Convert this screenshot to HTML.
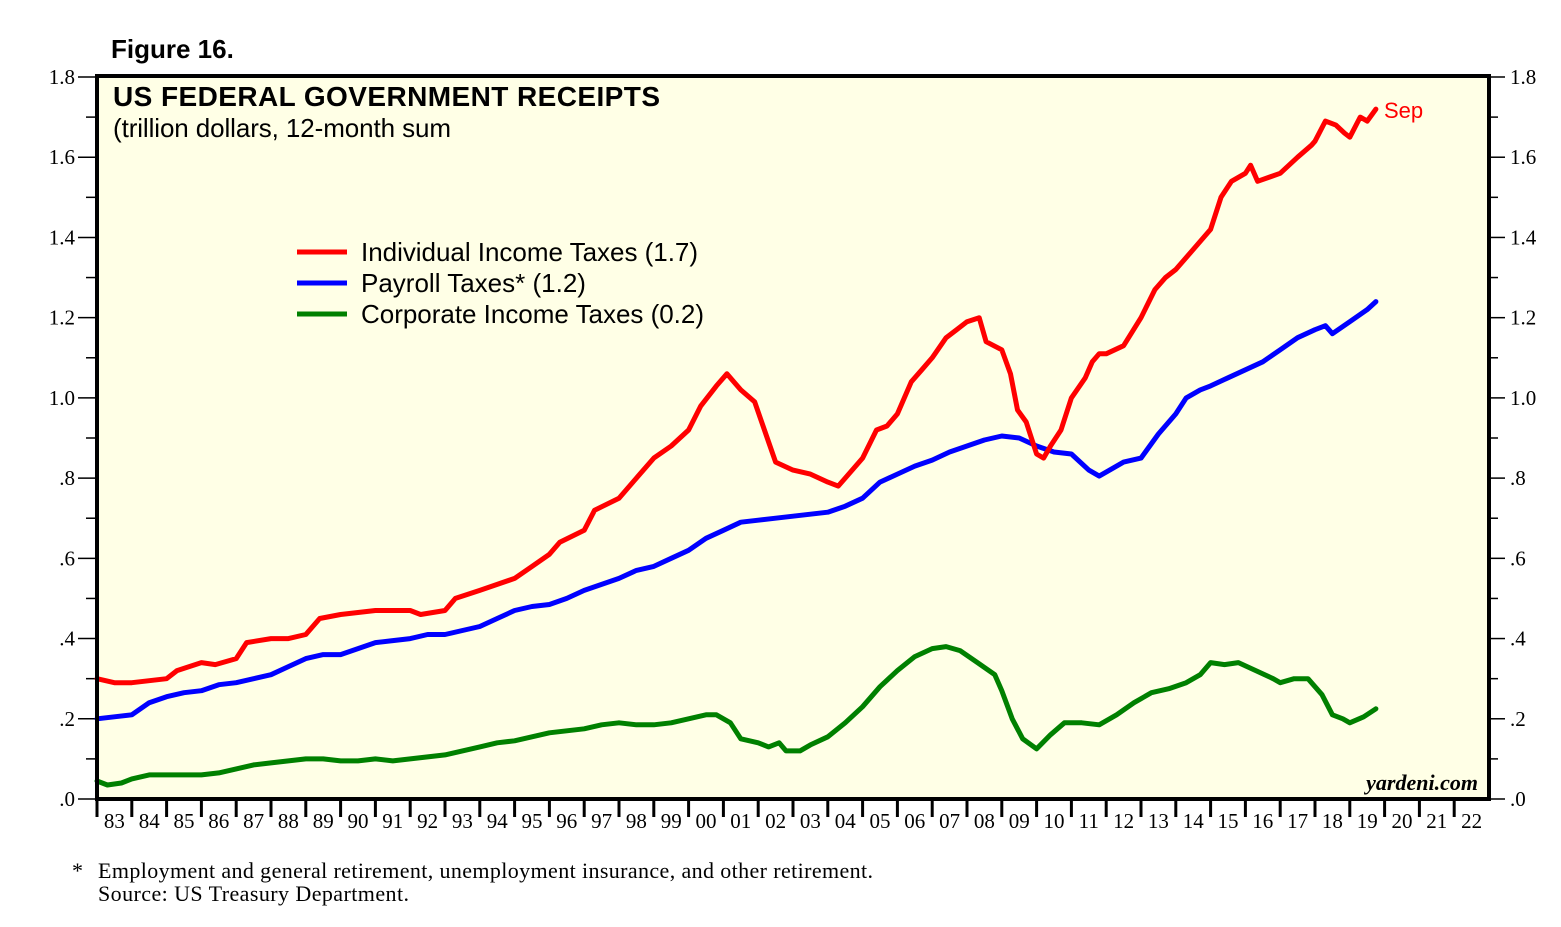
<!DOCTYPE html>
<html><head><meta charset="utf-8"><style>
body{margin:0;background:#fff;}
svg{display:block;}
</style></head><body>
<svg id="chart" width="1561" height="927" xmlns="http://www.w3.org/2000/svg">
<text x="111" y="58" font-family="Liberation Sans, sans-serif" font-weight="bold" font-size="26">Figure 16.</text>
<rect x="97" y="76" width="1392" height="723" fill="#ffffe6"/>
<g id="axes"></g>
<g id="series"></g>
<rect x="97" y="76" width="1392" height="723" fill="none" stroke="#000" stroke-width="4"/>
<text x="113" y="106" font-family="Liberation Sans, sans-serif" font-weight="bold" font-size="28" textLength="547">US FEDERAL GOVERNMENT RECEIPTS</text>
<text x="113" y="137" font-family="Liberation Sans, sans-serif" font-size="26" textLength="338">(trillion dollars, 12-month sum</text>
<g font-family="Liberation Sans, sans-serif" font-size="26">
<line x1="297" y1="252" x2="347" y2="252" stroke="#ff0000" stroke-width="5"/>
<text x="361" y="261" textLength="337">Individual Income Taxes (1.7)</text>
<line x1="297" y1="283" x2="347" y2="283" stroke="#0000ff" stroke-width="5"/>
<text x="361" y="292">Payroll Taxes* (1.2)</text>
<line x1="297" y1="314" x2="347" y2="314" stroke="#008000" stroke-width="5"/>
<text x="361" y="323" textLength="343">Corporate Income Taxes (0.2)</text>
</g>
<text x="1384" y="118" fill="#ff0000" font-family="Liberation Sans, sans-serif" font-size="22">Sep</text>
<text x="1478" y="790" text-anchor="end" font-family="Liberation Serif, serif" font-style="italic" font-weight="bold" font-size="22">yardeni.com</text>
<text x="72" y="878" font-family="Liberation Serif, serif" font-size="22">*</text>
<text x="98" y="878" font-family="Liberation Serif, serif" font-size="22" textLength="775">Employment and general retirement, unemployment insurance, and other retirement.</text>
<text x="98" y="901" font-family="Liberation Serif, serif" font-size="22" textLength="311">Source: US Treasury Department.</text>
</svg>
<script>
const yTicks=[0,0.2,0.4,0.6,0.8,1.0,1.2,1.4,1.6,1.8];
const yTickLabels=[".0",".2",".4",".6",".8","1.0","1.2","1.4","1.6","1.8"];
const yearLabels=["83","84","85","86","87","88","89","90","91","92","93","94","95","96","97","98","99","00","01","02","03","04","05","06","07","08","09","10","11","12","13","14","15","16","17","18","19","20","21","22"];
const indYears=[1983,1983.5,1984,1984.5,1985,1985.3,1986,1986.4,1987,1987.3,1988,1988.5,1989,1989.4,1990,1991,1992,1992.3,1993,1993.3,1994,1995,1995.5,1996,1996.3,1997,1997.3,1998,1998.5,1999,1999.5,2000,2000.35,2000.8,2001.1,2001.5,2001.9,2002.3,2002.5,2003,2003.5,2004,2004.3,2004.5,2005,2005.4,2005.7,2006,2006.4,2006.7,2007,2007.4,2007.7,2008,2008.35,2008.55,2009,2009.25,2009.45,2009.7,2010,2010.2,2010.4,2010.7,2011,2011.4,2011.6,2011.8,2012,2012.5,2013,2013.4,2013.7,2014,2014.5,2015,2015.3,2015.6,2016,2016.15,2016.35,2017,2017.5,2017.9,2018,2018.3,2018.6,2018.85,2019,2019.3,2019.5,2019.75];
const indVals=[0.30,0.29,0.29,0.295,0.30,0.32,0.34,0.335,0.35,0.39,0.40,0.40,0.41,0.45,0.46,0.47,0.47,0.46,0.47,0.50,0.52,0.55,0.58,0.61,0.64,0.67,0.72,0.75,0.80,0.85,0.88,0.92,0.98,1.03,1.06,1.02,0.99,0.89,0.84,0.82,0.81,0.79,0.78,0.80,0.85,0.92,0.93,0.96,1.04,1.07,1.10,1.15,1.17,1.19,1.20,1.14,1.12,1.06,0.97,0.94,0.86,0.85,0.88,0.92,1.00,1.05,1.09,1.11,1.11,1.13,1.20,1.27,1.30,1.32,1.37,1.42,1.50,1.54,1.56,1.58,1.54,1.56,1.60,1.63,1.64,1.69,1.68,1.66,1.65,1.70,1.69,1.72];
const payYears=[1983,1983.5,1984,1984.5,1985,1985.5,1986,1986.5,1987,1987.5,1988,1988.5,1989,1989.5,1990,1990.5,1991,1991.5,1992,1992.5,1993,1993.5,1994,1994.5,1995,1995.5,1996,1996.5,1997,1997.5,1998,1998.5,1999,1999.5,2000,2000.5,2001,2001.5,2002,2002.5,2003,2003.5,2004,2004.5,2005,2005.5,2006,2006.5,2007,2007.5,2008,2008.5,2009,2009.5,2010,2010.5,2011,2011.5,2011.8,2012,2012.5,2013,2013.5,2014,2014.3,2014.7,2015,2015.5,2016,2016.5,2017,2017.5,2018,2018.3,2018.5,2019,2019.5,2019.75];
const payVals=[0.20,0.205,0.21,0.24,0.255,0.265,0.27,0.285,0.29,0.30,0.31,0.33,0.35,0.36,0.36,0.375,0.39,0.395,0.40,0.41,0.41,0.42,0.43,0.45,0.47,0.48,0.485,0.50,0.52,0.535,0.55,0.57,0.58,0.60,0.62,0.65,0.67,0.69,0.695,0.70,0.705,0.71,0.715,0.73,0.75,0.79,0.81,0.83,0.845,0.865,0.88,0.895,0.905,0.90,0.88,0.865,0.86,0.82,0.805,0.815,0.84,0.85,0.91,0.96,1.0,1.02,1.03,1.05,1.07,1.09,1.12,1.15,1.17,1.18,1.16,1.19,1.22,1.24];
const corpYears=[1983,1983.3,1983.7,1984,1984.5,1985,1986,1986.5,1987,1987.5,1988,1988.5,1989,1989.5,1990,1990.5,1991,1991.5,1992,1993,1993.5,1994,1994.5,1995,1995.5,1996,1996.5,1997,1997.5,1998,1998.5,1999,1999.5,2000,2000.5,2000.8,2001.2,2001.5,2002,2002.3,2002.6,2002.8,2003.2,2003.5,2004,2004.5,2005,2005.5,2006,2006.5,2007,2007.4,2007.8,2008.3,2008.8,2009,2009.3,2009.6,2010,2010.4,2010.8,2011.3,2011.8,2012.3,2012.8,2013.3,2013.8,2014.3,2014.7,2015,2015.4,2015.8,2016.3,2016.8,2017,2017.4,2017.8,2018.2,2018.5,2018.8,2019,2019.4,2019.75];
const corpVals=[0.045,0.035,0.04,0.05,0.06,0.06,0.06,0.065,0.075,0.085,0.09,0.095,0.10,0.10,0.095,0.095,0.10,0.095,0.10,0.11,0.12,0.13,0.14,0.145,0.155,0.165,0.17,0.175,0.185,0.19,0.185,0.185,0.19,0.20,0.21,0.21,0.19,0.15,0.14,0.13,0.14,0.12,0.12,0.135,0.155,0.19,0.23,0.28,0.32,0.355,0.375,0.38,0.37,0.34,0.31,0.27,0.20,0.15,0.125,0.16,0.19,0.19,0.185,0.21,0.24,0.265,0.275,0.29,0.31,0.34,0.335,0.34,0.32,0.30,0.29,0.30,0.30,0.26,0.21,0.20,0.19,0.205,0.225];

const NS="http://www.w3.org/2000/svg";
const L=97,R=1489,T=77,B=799;
const x=yr=>L+(yr-1983)/40*(R-L);
const y=v=>B-v/1.8*(B-T);
const axes=document.getElementById('axes');
const series=document.getElementById('series');
function mk(tag,attrs,parent){const e=document.createElementNS(NS,tag);for(const k in attrs)e.setAttribute(k,attrs[k]);parent.appendChild(e);return e;}
yTicks.forEach((v,i)=>{
  const yy=y(v);
  const t1=mk('line',{x1:78,x2:L,y1:yy,y2:yy,stroke:'#000','stroke-width':1.5},axes);
  
  
  const t2=mk('line',{x1:R,x2:R+16,y1:yy,y2:yy,stroke:'#000','stroke-width':1.5},axes);
  
  
  const a=mk('text',{x:75,y:yy+7,'text-anchor':'end','font-family':'Liberation Serif, serif','font-size':21},axes);
  a.textContent=yTickLabels[i];
  
  
  const b=mk('text',{x:R+21,y:yy+7,'font-family':'Liberation Serif, serif','font-size':21},axes);
  b.textContent=yTickLabels[i];
  
  
  if(i<yTicks.length-1){
    const ym=y(v+0.1);
    const m1=mk('line',{x1:86,x2:L,y1:ym,y2:ym,stroke:'#000','stroke-width':1.5},axes);
    
    
    const m2=mk('line',{x1:R,x2:R+9,y1:ym,y2:ym,stroke:'#000','stroke-width':1.5},axes);
    
    
  }
});
yearLabels.forEach((lab,i)=>{
  const xx=x(1983+i);
  const t=mk('line',{x1:xx,x2:xx,y1:B,y2:B+18,stroke:'#000','stroke-width':3},axes);
  
  
  const tx=mk('text',{x:x(1983.5+i),y:828,'text-anchor':'middle','font-family':'Liberation Serif, serif','font-size':21},axes);
  tx.textContent=lab;
  
  
});
function line(xs,vs,color,name){
  const d=xs.map((yr,i)=>(i?'L':'M')+x(yr).toFixed(1)+' '+y(vs[i]).toFixed(1)).join(' ');
  const p=mk('path',{d:d,fill:'none',stroke:color,'stroke-width':5,'stroke-linejoin':'round','stroke-linecap':'round'},series);
  
  
}
line(corpYears,corpVals,'#008000','corporate-income-taxes-line');
line(payYears,payVals,'#0000ff','payroll-taxes-line');
line(indYears,indVals,'#ff0000','individual-income-taxes-line');
</script>
</body></html>
